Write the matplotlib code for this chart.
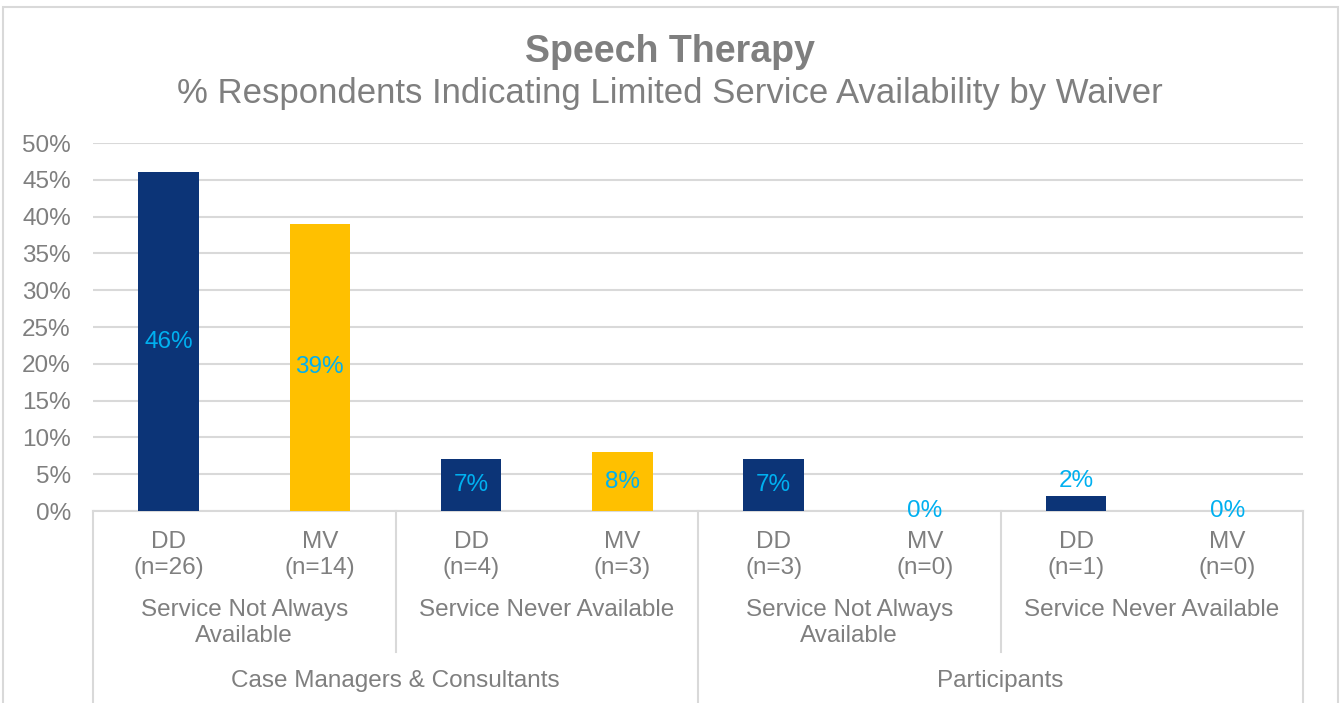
import numpy as np
import matplotlib.pyplot as plt
import matplotlib.transforms as mtransforms
from matplotlib.patches import Rectangle

plt.rcParams['font.family'] = ['Liberation Sans', 'DejaVu Sans']

# data
groups = ["Case Managers & Consultants", "Participants"]
availability = ["Service Not Always\nAvailable", "Service Never Available",
                "Service Not Always\nAvailable", "Service Never Available"]
waivers = ["DD", "MV", "DD", "MV", "DD", "MV", "DD", "MV"]
n_counts = [26, 14, 4, 3, 3, 0, 1, 0]
values = [46, 39, 7, 8, 7, 0, 2, 0]

navy = "#0C3477"
gold = "#FFC000"
label_col = "#00B0F0"
txt = "#7F7F7F"
grid = "#D9D9D9"
fs = 17.5

fig = plt.figure(figsize=(13.44, 7.03), dpi=100)
ax = fig.add_axes([93/1344, 1 - 511/703, (1303-93)/1344, (511-143)/703])

x = np.arange(len(values))
cols = [navy if w == "DD" else gold for w in waivers]
ax.bar(x, values, width=0.4, color=cols, zorder=3)

ax.set_xlim(-0.5, len(values) - 0.5)
ax.set_ylim(0, 50)
ax.set_yticks(np.arange(0, 51, 5))
ax.set_yticklabels([f"{v}%" for v in range(0, 51, 5)], fontsize=17.5, color=txt)
ax.tick_params(axis='y', length=0, pad=16)
ax.set_xticks([])
for s in ax.spines.values():
    s.set_visible(False)
ax.yaxis.grid(True, color=grid, linewidth=1.5, zorder=0)
ax.set_axisbelow(True)

# data labels
for xi, v in zip(x, values):
    if v >= 5:
        ax.text(xi, v / 2, f"{v}%", ha='center', va='center', fontsize=fs, color=label_col, zorder=4)
    elif v > 0:
        ax.text(xi, v + 0.6, f"{v}%", ha='center', va='bottom', fontsize=fs, color=label_col, zorder=4)
    else:
        ax.text(xi, 0, f"{v}%", ha='center', va='center', fontsize=fs, color=label_col, zorder=4)

# multi-level category axis
tr = mtransforms.blended_transform_factory(ax.transData, ax.transAxes)
for xi, w, n in zip(x, waivers, n_counts):
    ax.text(xi, -0.12, f"{w}\n(n={n})", transform=tr, ha='center', va='center',
            fontsize=fs, color=txt, linespacing=1.27)
for i, a in enumerate(availability):
    ax.text(2 * i + 0.5, -0.238, a, transform=tr, ha='center', va='top',
            fontsize=fs, color=txt, linespacing=1.25)
for i, g in enumerate(groups):
    ax.text(4 * i + 1.5, -0.462, g, transform=tr, ha='center', va='center',
            fontsize=fs, color=txt)

lw = 1.5
ax.plot([-0.5, 7.5], [0, 0], transform=tr, color=grid, lw=lw, clip_on=False)
for xs in [1.5, 5.5]:
    ax.plot([xs, xs], [0, -0.383], transform=tr, color=grid, lw=lw, clip_on=False)
for xs in [-0.5, 3.5, 7.5]:
    ax.plot([xs, xs], [0, -0.52], transform=tr, color=grid, lw=lw, clip_on=False)

# titles
fig.text(670/1344, 1 - 52/703, "Speech Therapy", ha='center', va='center',
         fontsize=27, fontweight='bold', color=txt)
fig.text(670/1344, 1 - 94/703, "% Respondents Indicating Limited Service Availability by Waiver",
         ha='center', va='center', fontsize=25, color=txt)

# chart border
fig.patches.append(Rectangle((3/1344, -0.05), 1335/1344, 1 - 7/703 + 0.05,
                             transform=fig.transFigure, fill=False,
                             edgecolor=grid, linewidth=1.5))

fig.savefig("out.png", dpi=100)
